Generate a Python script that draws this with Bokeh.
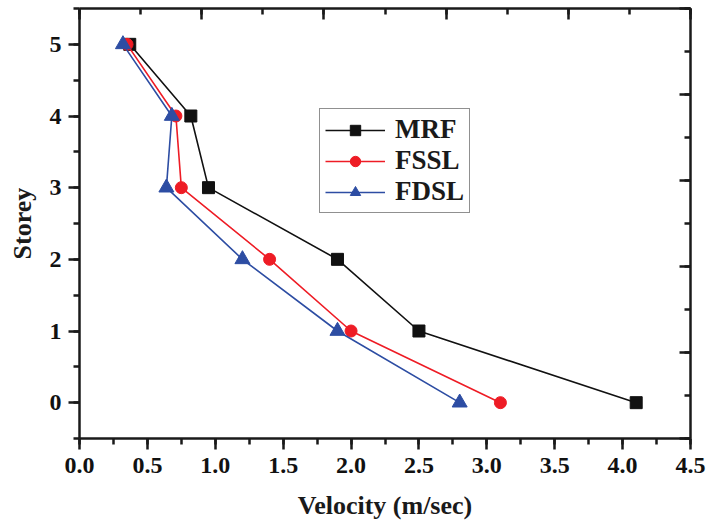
from bokeh.plotting import figure
from bokeh.models import (Range1d, LinearAxis, SingleIntervalTicker,
                          NumeralTickFormatter, CustomJSTickFormatter)
from bokeh.embed import file_html
from bokeh.resources import INLINE

storey = [0, 1, 2, 3, 4, 5]
mrf = [4.1, 2.5, 1.9, 0.95, 0.82, 0.37]
fssl = [3.1, 2.0, 1.4, 0.75, 0.71, 0.35]
fdsl = [2.8, 1.9, 1.2, 0.64, 0.68, 0.32]

FONT = "Liberation Serif"

p = figure(width=707, height=522, x_range=Range1d(0, 4.5), y_range=Range1d(-0.5, 5.5),
           output_backend="svg", toolbar_location=None,
           x_axis_location=None, y_axis_location=None,
           min_border_left=79, min_border_right=17, min_border_top=8, min_border_bottom=84)
p.grid.visible = False
p.outline_line_color = None
p.background_fill_color = "white"
p.border_fill_color = "white"

p.extra_x_ranges = {"top": Range1d(0, 5)}
p.extra_y_ranges = {"right": Range1d(0, 5)}

def style(ax, labels=True):
    ax.axis_line_width = 2.5
    ax.axis_line_color = "#1a1a1a"
    ax.major_tick_line_width = 2.5
    ax.minor_tick_line_width = 2.5
    ax.major_tick_line_color = "#1a1a1a"
    ax.minor_tick_line_color = "#1a1a1a"
    if labels:
        ax.major_tick_in = 0
        ax.major_tick_out = 11
        ax.minor_tick_in = 0
        ax.minor_tick_out = 6
        ax.major_label_text_font = FONT
        ax.major_label_text_font_style = "bold"
        ax.major_label_text_font_size = "24px"
        ax.major_label_text_color = "#111111"
        ax.axis_label_text_font = FONT
        ax.axis_label_text_font_style = "bold"
        ax.axis_label_text_font_size = "26px"
        ax.axis_label_text_color = "#1a1a1a"
    else:
        ax.major_tick_in = 11
        ax.major_tick_out = 0
        ax.minor_tick_in = 6
        ax.minor_tick_out = 0
        ax.formatter = CustomJSTickFormatter(code="return ''")
        ax.major_label_standoff = 0

xb = LinearAxis(ticker=SingleIntervalTicker(interval=0.5, num_minor_ticks=2),
                formatter=NumeralTickFormatter(format="0.0"), axis_label="Velocity (m/sec)")
style(xb)
xb.major_label_standoff = 8
xb.axis_label_standoff = 15
p.add_layout(xb, "below")

yl = LinearAxis(ticker=SingleIntervalTicker(interval=1, num_minor_ticks=2), axis_label="Storey")
style(yl)
yl.major_label_standoff = 7
yl.axis_label_standoff = 10
p.add_layout(yl, "left")

xt = LinearAxis(x_range_name="top", ticker=SingleIntervalTicker(interval=1, num_minor_ticks=2))
style(xt, labels=False)
p.add_layout(xt, "above")

yr = LinearAxis(y_range_name="right", ticker=SingleIntervalTicker(interval=1, num_minor_ticks=2))
style(yr, labels=False)
p.add_layout(yr, "right")

series = [("MRF", mrf, "#111111", "square", 12),
          ("FSSL", fssl, "#ee1c25", "circle", 12),
          ("FDSL", fdsl, "#2d4da3", "triangle", 15)]
for name, xs, col, mk, sz in series:
    p.line(xs, storey, line_color=col, line_width=1.6, legend_label=name)
    p.scatter(xs, storey, marker=mk, size=sz, fill_color=col, line_color=col, legend_label=name)

lg = p.legend[0]
lg.location = (240, 225)
lg.label_text_font = FONT
lg.label_text_font_style = "bold"
lg.label_text_font_size = "27px"
lg.label_text_color = "#1a1a1a"
lg.glyph_width = 60
lg.glyph_height = 26
lg.label_height = 26
lg.label_standoff = 10
lg.spacing = 0
lg.padding = 5
lg.margin = 0
lg.border_line_color = "#222222"
lg.border_line_width = 1
lg.background_fill_alpha = 1

open("out.html", "w").write(file_html(p, INLINE))
